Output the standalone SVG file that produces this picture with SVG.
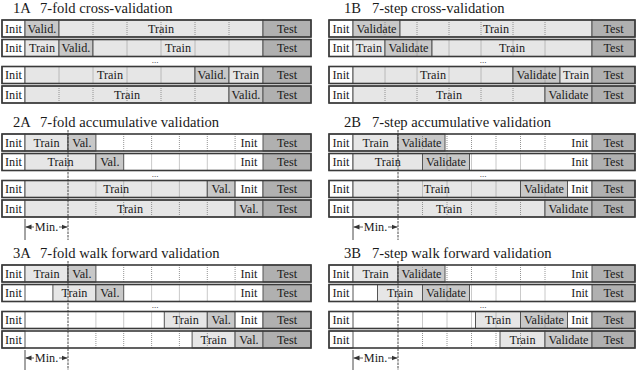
<svg xmlns="http://www.w3.org/2000/svg" width="640" height="370" viewBox="0 0 640 370" font-family="'Liberation Serif', 'DejaVu Serif', serif">
<defs>
<style>
.bg{fill:#fff}
.init{fill:#fff;stroke:#555;stroke-width:1}
.tr{fill:#e6e6e6;stroke:#555;stroke-width:1}
.va{fill:#c8c8c8;stroke:#555;stroke-width:1}
.te{fill:#b0b0b0;stroke:#555;stroke-width:1}
.grid{fill:none;stroke:#888;stroke-width:0.9;stroke-dasharray:1 1}
.frame{fill:none;stroke:#3a3a3a;stroke-width:1.6}
.t{font-family:'Liberation Serif','DejaVu Serif',serif;font-size:12.2px;text-anchor:middle;fill:#1a1a1a}
.ti{font-family:'Liberation Serif','DejaVu Serif',serif;font-size:14.6px;fill:#1a1a1a}
.dots{font-family:'Liberation Serif','DejaVu Serif',serif;font-size:9px;text-anchor:middle;fill:#1a1a1a}
.minl{fill:none;stroke:#333;stroke-width:0.9}
.mind{fill:none;stroke:#333;stroke-width:0.9;stroke-dasharray:2.5 1}
.arr{fill:none;stroke:#333;stroke-width:0.8}
</style>
<marker id="ah" viewBox="0 0 6 6" refX="6" refY="3" markerWidth="6" markerHeight="6" markerUnits="userSpaceOnUse" orient="auto"><path d="M0 0.6L6 3L0 5.4z" fill="#333"/></marker>
</defs>

<g id="titles">
<text class="ti" x="13" y="13">1A</text><text class="ti" x="40" y="13">7-fold cross-validation</text>
<text class="ti" x="344" y="13">1B</text><text class="ti" x="372" y="13">7-step cross-validation</text>
<text class="ti" x="13" y="127">2A</text><text class="ti" x="40" y="127">7-fold accumulative validation</text>
<text class="ti" x="344" y="127">2B</text><text class="ti" x="372" y="127">7-step accumulative validation</text>
<text class="ti" x="13" y="258">3A</text><text class="ti" x="40" y="258">7-fold walk forward validation</text>
<text class="ti" x="344" y="258">3B</text><text class="ti" x="372" y="258">7-step walk forward validation</text>
<text class="dots" x="155" y="62.5">...</text><text class="dots" x="483" y="62.5">...</text>
<text class="dots" x="155" y="176.5">...</text><text class="dots" x="483" y="176.5">...</text>
<text class="dots" x="155" y="307.5">...</text><text class="dots" x="483" y="307.5">...</text>
</g>

<!-- 1A -->
<g id="r1A-1">
<rect class="bg" x="2" y="20" width="309" height="17"/>
<rect class="init" x="2" y="20" width="23" height="17"/><rect class="va" x="25" y="20" width="34" height="17"/><rect class="tr" x="59" y="20" width="204" height="17"/><rect class="te" x="263" y="20" width="48" height="17"/>
<path class="grid" d="M93 20v17M127 20v17M161 20v17M195 20v17M229 20v17"/>
<rect class="frame" x="2" y="20" width="309" height="17"/>
<text class="t" x="13.5" y="32.7">Init</text><text class="t" x="42" y="32.7">Valid.</text><text class="t" x="161" y="32.7">Train</text><text class="t" x="287" y="32.7">Test</text>
</g>
<g id="r1A-2">
<rect class="bg" x="2" y="39.5" width="309" height="17"/>
<rect class="init" x="2" y="39.5" width="23" height="17"/><rect class="tr" x="25" y="39.5" width="34" height="17"/><rect class="va" x="59" y="39.5" width="34" height="17"/><rect class="tr" x="93" y="39.5" width="170" height="17"/><rect class="te" x="263" y="39.5" width="48" height="17"/>
<path class="grid" d="M127 39.5v17M161 39.5v17M195 39.5v17M229 39.5v17"/>
<rect class="frame" x="2" y="39.5" width="309" height="17"/>
<text class="t" x="13.5" y="52.2">Init</text><text class="t" x="42" y="52.2">Train</text><text class="t" x="76" y="52.2">Valid.</text><text class="t" x="178" y="52.2">Train</text><text class="t" x="287" y="52.2">Test</text>
</g>
<g id="r1A-3">
<rect class="bg" x="2" y="66.5" width="309" height="17"/>
<rect class="init" x="2" y="66.5" width="23" height="17"/><rect class="tr" x="25" y="66.5" width="170" height="17"/><rect class="va" x="195" y="66.5" width="34" height="17"/><rect class="tr" x="229" y="66.5" width="34" height="17"/><rect class="te" x="263" y="66.5" width="48" height="17"/>
<path class="grid" d="M59 66.5v17M93 66.5v17M127 66.5v17M161 66.5v17"/>
<rect class="frame" x="2" y="66.5" width="309" height="17"/>
<text class="t" x="13.5" y="79.2">Init</text><text class="t" x="110" y="79.2">Train</text><text class="t" x="212" y="79.2">Valid.</text><text class="t" x="246" y="79.2">Train</text><text class="t" x="287" y="79.2">Test</text>
</g>
<g id="r1A-4">
<rect class="bg" x="2" y="86" width="309" height="17"/>
<rect class="init" x="2" y="86" width="23" height="17"/><rect class="tr" x="25" y="86" width="204" height="17"/><rect class="va" x="229" y="86" width="34" height="17"/><rect class="te" x="263" y="86" width="48" height="17"/>
<path class="grid" d="M59 86v17M93 86v17M127 86v17M161 86v17M195 86v17"/>
<rect class="frame" x="2" y="86" width="309" height="17"/>
<text class="t" x="13.5" y="98.7">Init</text><text class="t" x="127" y="98.7">Train</text><text class="t" x="246" y="98.7">Valid.</text><text class="t" x="287" y="98.7">Test</text>
</g>

<!-- 1B -->
<g id="r1B-1">
<rect class="bg" x="329" y="20" width="306" height="17"/>
<rect class="init" x="329" y="20" width="24" height="17"/><rect class="va" x="353" y="20" width="47" height="17"/><rect class="tr" x="400" y="20" width="192" height="17"/><rect class="te" x="592" y="20" width="43" height="17"/>
<path class="grid" d="M385 20v17M417 20v17M449 20v17M481 20v17M513 20v17M545 20v17"/>
<rect class="frame" x="329" y="20" width="306" height="17"/>
<text class="t" x="341" y="32.7">Init</text><text class="t" x="376.5" y="32.7">Validate</text><text class="t" x="496" y="32.7">Train</text><text class="t" x="613.5" y="32.7">Test</text>
</g>
<g id="r1B-2">
<rect class="bg" x="329" y="39.5" width="306" height="17"/>
<rect class="init" x="329" y="39.5" width="24" height="17"/><rect class="tr" x="353" y="39.5" width="32" height="17"/><rect class="va" x="385" y="39.5" width="47" height="17"/><rect class="tr" x="432" y="39.5" width="160" height="17"/><rect class="te" x="592" y="39.5" width="43" height="17"/>
<path class="grid" d="M417 39.5v17M449 39.5v17M481 39.5v17M513 39.5v17M545 39.5v17"/>
<rect class="frame" x="329" y="39.5" width="306" height="17"/>
<text class="t" x="341" y="52.2">Init</text><text class="t" x="369" y="52.2">Train</text><text class="t" x="408.5" y="52.2">Validate</text><text class="t" x="512" y="52.2">Train</text><text class="t" x="613.5" y="52.2">Test</text>
</g>
<g id="r1B-3">
<rect class="bg" x="329" y="66.5" width="306" height="17"/>
<rect class="init" x="329" y="66.5" width="24" height="17"/><rect class="tr" x="353" y="66.5" width="160" height="17"/><rect class="va" x="513" y="66.5" width="47" height="17"/><rect class="tr" x="560" y="66.5" width="32" height="17"/><rect class="te" x="592" y="66.5" width="43" height="17"/>
<path class="grid" d="M385 66.5v17M417 66.5v17M449 66.5v17M481 66.5v17M545 66.5v17"/>
<rect class="frame" x="329" y="66.5" width="306" height="17"/>
<text class="t" x="341" y="79.2">Init</text><text class="t" x="433" y="79.2">Train</text><text class="t" x="536.5" y="79.2">Validate</text><text class="t" x="576" y="79.2">Train</text><text class="t" x="613.5" y="79.2">Test</text>
</g>
<g id="r1B-4">
<rect class="bg" x="329" y="86" width="306" height="17"/>
<rect class="init" x="329" y="86" width="24" height="17"/><rect class="tr" x="353" y="86" width="192" height="17"/><rect class="va" x="545" y="86" width="47" height="17"/><rect class="te" x="592" y="86" width="43" height="17"/>
<path class="grid" d="M385 86v17M417 86v17M449 86v17M481 86v17M513 86v17"/>
<rect class="frame" x="329" y="86" width="306" height="17"/>
<text class="t" x="341" y="98.7">Init</text><text class="t" x="449" y="98.7">Train</text><text class="t" x="568.5" y="98.7">Validate</text><text class="t" x="613.5" y="98.7">Test</text>
</g>

<!-- 2A -->
<g id="r2A-1">
<rect class="bg" x="2" y="134" width="309" height="17"/>
<rect class="init" x="2" y="134" width="23" height="17"/><rect class="tr" x="25" y="134" width="43" height="17"/><rect class="va" x="68" y="134" width="27.9" height="17"/><rect class="te" x="263" y="134" width="48" height="17"/>
<path class="grid" d="M123.7 134v17M151.6 134v17M179.4 134v17M207.3 134v17M235.1 134v17"/>
<rect class="frame" x="2" y="134" width="309" height="17"/>
<text class="t" x="13.5" y="146.7">Init</text><text class="t" x="46.5" y="146.7">Train</text><text class="t" x="81.9" y="146.7">Val.</text><text class="t" x="249" y="146.7">Init</text><text class="t" x="287" y="146.7">Test</text>
</g>
<g id="r2A-2">
<rect class="bg" x="2" y="153.5" width="309" height="17"/>
<rect class="init" x="2" y="153.5" width="23" height="17"/><rect class="tr" x="25" y="153.5" width="70.9" height="17"/><rect class="va" x="95.9" y="153.5" width="27.8" height="17"/><rect class="te" x="263" y="153.5" width="48" height="17"/>
<path class="grid" d="M151.6 153.5v17M179.4 153.5v17M207.3 153.5v17M235.1 153.5v17"/>
<rect class="frame" x="2" y="153.5" width="309" height="17"/>
<text class="t" x="13.5" y="166.2">Init</text><text class="t" x="60.5" y="166.2">Train</text><text class="t" x="109.8" y="166.2">Val.</text><text class="t" x="249" y="166.2">Init</text><text class="t" x="287" y="166.2">Test</text>
</g>
<g id="r2A-3">
<rect class="bg" x="2" y="180.5" width="309" height="17"/>
<rect class="init" x="2" y="180.5" width="23" height="17"/><rect class="tr" x="25" y="180.5" width="182.3" height="17"/><rect class="va" x="207.3" y="180.5" width="27.8" height="17"/><rect class="init" x="235.1" y="180.5" width="27.9" height="17"/><rect class="te" x="263" y="180.5" width="48" height="17"/>
<path class="grid" d="M95.9 180.5v17M123.7 180.5v17M151.6 180.5v17M179.4 180.5v17"/>
<rect class="frame" x="2" y="180.5" width="309" height="17"/>
<text class="t" x="13.5" y="193.2">Init</text><text class="t" x="116.2" y="193.2">Train</text><text class="t" x="221.2" y="193.2">Val.</text><text class="t" x="249" y="193.2">Init</text><text class="t" x="287" y="193.2">Test</text>
</g>
<g id="r2A-4">
<rect class="bg" x="2" y="200" width="309" height="17"/>
<rect class="init" x="2" y="200" width="23" height="17"/><rect class="tr" x="25" y="200" width="210.1" height="17"/><rect class="va" x="235.1" y="200" width="27.9" height="17"/><rect class="te" x="263" y="200" width="48" height="17"/>
<path class="grid" d="M95.9 200v17M123.7 200v17M151.6 200v17M179.4 200v17M207.3 200v17"/>
<rect class="frame" x="2" y="200" width="309" height="17"/>
<text class="t" x="13.5" y="212.7">Init</text><text class="t" x="130" y="212.7">Train</text><text class="t" x="249" y="212.7">Val.</text><text class="t" x="287" y="212.7">Test</text>
</g>

<!-- 2B -->
<g id="r2B-1">
<rect class="bg" x="329" y="134" width="306" height="17"/>
<rect class="init" x="329" y="134" width="24" height="17"/><rect class="tr" x="353" y="134" width="45" height="17"/><rect class="va" x="398" y="134" width="47" height="17"/><rect class="te" x="592" y="134" width="43" height="17"/>
<path class="grid" d="M422.5 134v17M447 134v17M471.5 134v17M496 134v17M520.5 134v17M545 134v17"/>
<rect class="frame" x="329" y="134" width="306" height="17"/>
<text class="t" x="341" y="146.7">Init</text><text class="t" x="375.5" y="146.7">Train</text><text class="t" x="421.5" y="146.7">Validate</text><text class="t" x="579.8" y="146.7">Init</text><text class="t" x="613.5" y="146.7">Test</text>
</g>
<g id="r2B-2">
<rect class="bg" x="329" y="153.5" width="306" height="17"/>
<rect class="init" x="329" y="153.5" width="24" height="17"/><rect class="tr" x="353" y="153.5" width="69.5" height="17"/><rect class="va" x="422.5" y="153.5" width="47" height="17"/><rect class="te" x="592" y="153.5" width="43" height="17"/>
<path class="grid" d="M447 153.5v17M471.5 153.5v17M496 153.5v17M520.5 153.5v17M545 153.5v17"/>
<rect class="frame" x="329" y="153.5" width="306" height="17"/>
<text class="t" x="341" y="166.2">Init</text><text class="t" x="387.8" y="166.2">Train</text><text class="t" x="446" y="166.2">Validate</text><text class="t" x="579.8" y="166.2">Init</text><text class="t" x="613.5" y="166.2">Test</text>
</g>
<g id="r2B-3">
<rect class="bg" x="329" y="180.5" width="306" height="17"/>
<rect class="init" x="329" y="180.5" width="24" height="17"/><rect class="tr" x="353" y="180.5" width="167.5" height="17"/><rect class="va" x="520.5" y="180.5" width="47" height="17"/><rect class="init" x="567.5" y="180.5" width="24.5" height="17"/><rect class="te" x="592" y="180.5" width="43" height="17"/>
<path class="grid" d="M422.5 180.5v17M447 180.5v17M471.5 180.5v17M496 180.5v17M545 180.5v17"/>
<rect class="frame" x="329" y="180.5" width="306" height="17"/>
<text class="t" x="341" y="193.2">Init</text><text class="t" x="436.8" y="193.2">Train</text><text class="t" x="544" y="193.2">Validate</text><text class="t" x="579.8" y="193.2">Init</text><text class="t" x="613.5" y="193.2">Test</text>
</g>
<g id="r2B-4">
<rect class="bg" x="329" y="200" width="306" height="17"/>
<rect class="init" x="329" y="200" width="24" height="17"/><rect class="tr" x="353" y="200" width="192" height="17"/><rect class="va" x="545" y="200" width="47" height="17"/><rect class="te" x="592" y="200" width="43" height="17"/>
<path class="grid" d="M422.5 200v17M447 200v17M471.5 200v17M496 200v17M520.5 200v17"/>
<rect class="frame" x="329" y="200" width="306" height="17"/>
<text class="t" x="341" y="212.7">Init</text><text class="t" x="449" y="212.7">Train</text><text class="t" x="568.5" y="212.7">Validate</text><text class="t" x="613.5" y="212.7">Test</text>
</g>

<!-- 3A -->
<g id="r3A-1">
<rect class="bg" x="2" y="265" width="309" height="17"/>
<rect class="init" x="2" y="265" width="23" height="17"/><rect class="tr" x="25" y="265" width="43" height="17"/><rect class="va" x="68" y="265" width="27.9" height="17"/><rect class="te" x="263" y="265" width="48" height="17"/>
<path class="grid" d="M123.7 265v17M151.6 265v17M179.4 265v17M207.3 265v17M235.1 265v17"/>
<rect class="frame" x="2" y="265" width="309" height="17"/>
<text class="t" x="13.5" y="277.7">Init</text><text class="t" x="46.5" y="277.7">Train</text><text class="t" x="81.9" y="277.7">Val.</text><text class="t" x="249" y="277.7">Init</text><text class="t" x="287" y="277.7">Test</text>
</g>
<g id="r3A-2">
<rect class="bg" x="2" y="284.5" width="309" height="17"/>
<rect class="init" x="2" y="284.5" width="23" height="17"/><rect class="tr" x="52.9" y="284.5" width="43" height="17"/><rect class="va" x="95.9" y="284.5" width="27.8" height="17"/><rect class="te" x="263" y="284.5" width="48" height="17"/>
<path class="grid" d="M151.6 284.5v17M179.4 284.5v17M207.3 284.5v17M235.1 284.5v17"/>
<rect class="frame" x="2" y="284.5" width="309" height="17"/>
<text class="t" x="13.5" y="297.2">Init</text><text class="t" x="74.4" y="297.2">Train</text><text class="t" x="109.8" y="297.2">Val.</text><text class="t" x="249" y="297.2">Init</text><text class="t" x="287" y="297.2">Test</text>
</g>
<g id="r3A-3">
<rect class="bg" x="2" y="311.5" width="309" height="17"/>
<rect class="init" x="2" y="311.5" width="23" height="17"/><rect class="tr" x="164.3" y="311.5" width="43" height="17"/><rect class="va" x="207.3" y="311.5" width="27.8" height="17"/><rect class="init" x="235.1" y="311.5" width="27.9" height="17"/><rect class="te" x="263" y="311.5" width="48" height="17"/>
<path class="grid" d="M95.9 311.5v17M123.7 311.5v17M151.6 311.5v17M179.4 311.5v17"/>
<rect class="frame" x="2" y="311.5" width="309" height="17"/>
<text class="t" x="13.5" y="324.2">Init</text><text class="t" x="185.8" y="324.2">Train</text><text class="t" x="221.2" y="324.2">Val.</text><text class="t" x="249" y="324.2">Init</text><text class="t" x="287" y="324.2">Test</text>
</g>
<g id="r3A-4">
<rect class="bg" x="2" y="331" width="309" height="17"/>
<rect class="init" x="2" y="331" width="23" height="17"/><rect class="tr" x="192.1" y="331" width="43" height="17"/><rect class="va" x="235.1" y="331" width="27.9" height="17"/><rect class="te" x="263" y="331" width="48" height="17"/>
<path class="grid" d="M95.9 331v17M123.7 331v17M151.6 331v17M179.4 331v17M207.3 331v17"/>
<rect class="frame" x="2" y="331" width="309" height="17"/>
<text class="t" x="13.5" y="343.7">Init</text><text class="t" x="213.6" y="343.7">Train</text><text class="t" x="249" y="343.7">Val.</text><text class="t" x="287" y="343.7">Test</text>
</g>

<!-- 3B -->
<g id="r3B-1">
<rect class="bg" x="329" y="265" width="306" height="17"/>
<rect class="init" x="329" y="265" width="24" height="17"/><rect class="tr" x="353" y="265" width="45" height="17"/><rect class="va" x="398" y="265" width="47" height="17"/><rect class="te" x="592" y="265" width="43" height="17"/>
<path class="grid" d="M422.5 265v17M447 265v17M471.5 265v17M496 265v17M520.5 265v17M545 265v17"/>
<rect class="frame" x="329" y="265" width="306" height="17"/>
<text class="t" x="341" y="277.7">Init</text><text class="t" x="375.5" y="277.7">Train</text><text class="t" x="421.5" y="277.7">Validate</text><text class="t" x="579.8" y="277.7">Init</text><text class="t" x="613.5" y="277.7">Test</text>
</g>
<g id="r3B-2">
<rect class="bg" x="329" y="284.5" width="306" height="17"/>
<rect class="init" x="329" y="284.5" width="24" height="17"/><rect class="tr" x="377.5" y="284.5" width="45" height="17"/><rect class="va" x="422.5" y="284.5" width="47" height="17"/><rect class="te" x="592" y="284.5" width="43" height="17"/>
<path class="grid" d="M447 284.5v17M471.5 284.5v17M496 284.5v17M520.5 284.5v17M545 284.5v17"/>
<rect class="frame" x="329" y="284.5" width="306" height="17"/>
<text class="t" x="341" y="297.2">Init</text><text class="t" x="400" y="297.2">Train</text><text class="t" x="446" y="297.2">Validate</text><text class="t" x="579.8" y="297.2">Init</text><text class="t" x="613.5" y="297.2">Test</text>
</g>
<g id="r3B-3">
<rect class="bg" x="329" y="311.5" width="306" height="17"/>
<rect class="init" x="329" y="311.5" width="24" height="17"/><rect class="tr" x="475.5" y="311.5" width="45" height="17"/><rect class="va" x="520.5" y="311.5" width="47" height="17"/><rect class="init" x="567.5" y="311.5" width="24.5" height="17"/><rect class="te" x="592" y="311.5" width="43" height="17"/>
<path class="grid" d="M422.5 311.5v17M447 311.5v17M471.5 311.5v17M496 311.5v17M545 311.5v17"/>
<rect class="frame" x="329" y="311.5" width="306" height="17"/>
<text class="t" x="341" y="324.2">Init</text><text class="t" x="498" y="324.2">Train</text><text class="t" x="544" y="324.2">Validate</text><text class="t" x="579.8" y="324.2">Init</text><text class="t" x="613.5" y="324.2">Test</text>
</g>
<g id="r3B-4">
<rect class="bg" x="329" y="331" width="306" height="17"/>
<rect class="init" x="329" y="331" width="24" height="17"/><rect class="tr" x="500" y="331" width="45" height="17"/><rect class="va" x="545" y="331" width="47" height="17"/><rect class="te" x="592" y="331" width="43" height="17"/>
<path class="grid" d="M422.5 331v17M447 331v17M471.5 331v17M496 331v17M520.5 331v17"/>
<rect class="frame" x="329" y="331" width="306" height="17"/>
<text class="t" x="341" y="343.7">Init</text><text class="t" x="522.5" y="343.7">Train</text><text class="t" x="568.5" y="343.7">Validate</text><text class="t" x="613.5" y="343.7">Test</text>
</g>

<!-- Min. markers -->
<g id="connectors">
<path class="mind" d="M68 130V240M398 130V240M68 261V370M398 261V370"/>
<path class="minl" d="M25 219V240M353 219V240M25 350V370M353 350V370"/>
<path class="arr" d="M34 227H25.5" marker-end="url(#ah)"/><path class="arr" d="M59 227H67.5" marker-end="url(#ah)"/>
<path class="arr" d="M363 227H353.5" marker-end="url(#ah)"/><path class="arr" d="M388 227H397.5" marker-end="url(#ah)"/>
<path class="arr" d="M34 358H25.5" marker-end="url(#ah)"/><path class="arr" d="M59 358H67.5" marker-end="url(#ah)"/>
<path class="arr" d="M363 358H353.5" marker-end="url(#ah)"/><path class="arr" d="M388 358H397.5" marker-end="url(#ah)"/>
<text class="t" x="46.5" y="231">Min.</text><text class="t" x="375.5" y="231">Min.</text>
<text class="t" x="46.5" y="362">Min.</text><text class="t" x="375.5" y="362">Min.</text>
</g>
</svg>
